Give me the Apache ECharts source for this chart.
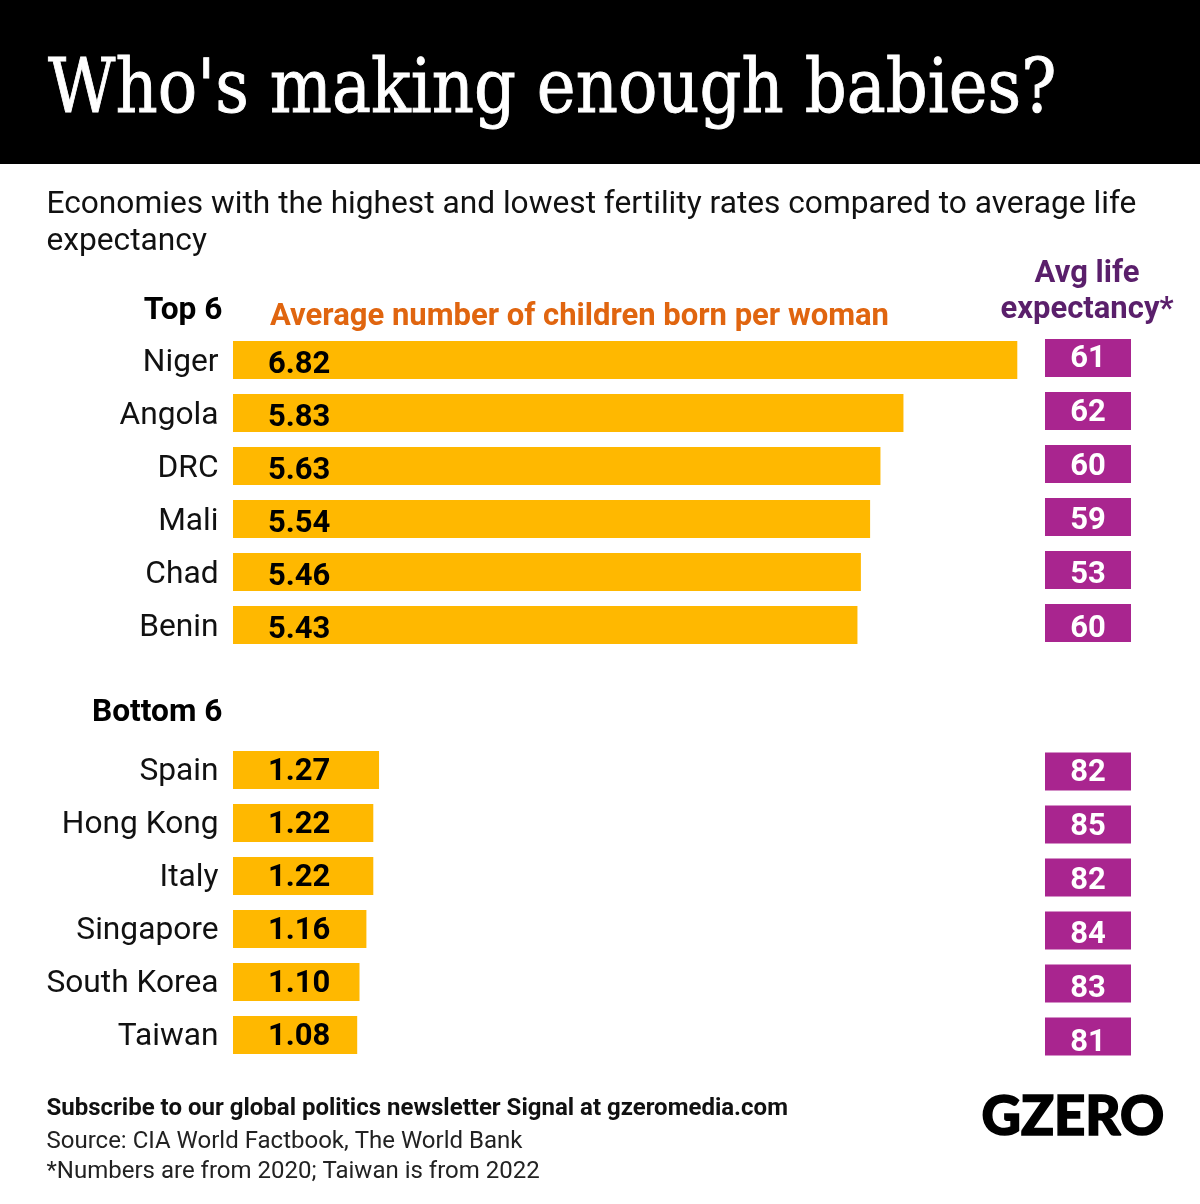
<!DOCTYPE html>
<html>
<head>
    <meta charset="UTF-8"/>
    <title>Who's making enough babies?</title>
    <style>
        html, body{
            margin: 0;
            background: #fff;
        }
    </style>
    <script src="https://cdn.jsdelivr.net/npm/echarts@6/dist/echarts.min.js"></script>
</head>
<body>
<div id="container" style="width: 1200px;height: 1204px;"></div>

<script>
  var topNames = ['Niger', 'Angola', 'DRC', 'Mali', 'Chad', 'Benin'];
  var topRates = [6.82, 5.83, 5.63, 5.54, 5.46, 5.43];
  var topLife = [61, 62, 60, 59, 53, 60];
  var bottomNames = ['Spain', 'Hong Kong', 'Italy', 'Singapore', 'South Korea', 'Taiwan'];
  var bottomRates = [1.27, 1.22, 1.22, 1.16, 1.10, 1.08];
  var bottomLife = [82, 85, 82, 84, 83, 81];

  var FONT = 'Roboto';
  var myChart = echarts.init(document.getElementById('container'));

  function text(str, x, y, size, weight, color, align, family, extra) {
      var el = {
          type: 'text',
          x: x,
          y: y,
          style: {
              text: str,
              fontFamily: family || FONT,
              fontSize: size,
              fontWeight: weight,
              fill: color,
              align: align || 'left',
              verticalAlign: 'middle'
          }
      };
      if (extra) {
          if (extra.scaleY) el.scaleY = extra.scaleY;
          if (extra.stroke) {
              el.style.stroke = color;
              el.style.lineWidth = extra.stroke;
          }
      }
      return el;
  }

  // bar grid: one row per country
  function barGrid(top) {
      return {left: 233, width: 920, top: top, height: 318};
  }
  function lifeGrid(top) {
      return {left: 1045, width: 86, top: top, height: 318};
  }
  function barSeries(idx, values, labelShift) {
      return {
          type: 'bar',
          xAxisIndex: idx,
          yAxisIndex: idx,
          data: values,
          barWidth: 38,
          silent: true,
          itemStyle: {color: '#FFB800'},
          label: {
              show: true,
              position: 'insideLeft',
              distance: 35,
              offset: [0, labelShift],
              formatter: function (p) { return p.value.toFixed(2); },
              fontFamily: FONT,
              fontSize: 31,
              fontWeight: 'bold',
              color: '#000'
          }
      };
  }
  function lifeSeries(idx, values, labelShift) {
      return {
          type: 'scatter',
          xAxisIndex: idx,
          yAxisIndex: idx,
          symbol: 'rect',
          symbolSize: [86, 38],
          silent: true,
          itemStyle: {color: '#A9258F', opacity: 1},
          data: values.map(function (v, i) {
              // numbers sit a little lower in the box on each row down
              return {value: [0, i], life: v, label: {offset: [0, labelShift + i]}};
          }),
          label: {
              show: true,
              position: 'inside',
              formatter: function (p) { return p.data.life; },
              fontFamily: FONT,
              fontSize: 31,
              fontWeight: 'bold',
              color: '#fff'
          }
      };
  }
  function hiddenX(gridIndex, isLife) {
      return isLife
          ? {gridIndex: gridIndex, type: 'category', data: ['life'], show: false}
          : {gridIndex: gridIndex, type: 'value', min: 0, max: 8, show: false};
  }
  function catY(gridIndex, names, showLabels) {
      return {
          gridIndex: gridIndex,
          type: 'category',
          inverse: true,
          data: names,
          axisLine: {show: false},
          axisTick: {show: false},
          splitLine: {show: false},
          axisLabel: {
              show: showLabels,
              margin: 14.5,
              fontFamily: FONT,
              fontSize: 31.7,
              color: '#111'
          }
      };
  }

  var option = {
      backgroundColor: '#fff',
      animation: false,
      // last two grids only carry the country names, which sit a bit below the bar centres
      grid: [barGrid(333.5), barGrid(743.5), lifeGrid(331.5), lifeGrid(745), barGrid(336.5), barGrid(746)],
      xAxis: [hiddenX(0), hiddenX(1), hiddenX(2, true), hiddenX(3, true), hiddenX(4), hiddenX(5)],
      yAxis: [
          catY(0, topNames, false),
          catY(1, bottomNames, false),
          catY(2, topNames, false),
          catY(3, bottomNames, false),
          catY(4, topNames, true),
          catY(5, bottomNames, true)
      ],
      series: [
          barSeries(0, topRates, 5),
          barSeries(1, bottomRates, 2),
          lifeSeries(2, topLife, 1),
          lifeSeries(3, bottomLife, 2)
      ],
      graphic: [
          {type: 'rect', z: -1, shape: {x: 0, y: 0, width: 1200, height: 164}, style: {fill: '#000'}},
          text("Who's making enough babies?", 48, 92, 65.6, 'normal', '#fff', 'left', 'DejaVu Serif', {scaleY: 1.15, stroke: 0.8}),
          text('Economies with the highest and lowest fertility rates compared to average life', 46.5, 205, 31.7, 'normal', '#111'),
          text('expectancy', 46.5, 242, 31.7, 'normal', '#111'),
          text('Top 6', 222.5, 311, 31.7, 'bold', '#000', 'right'),
          text('Bottom 6', 222.5, 713, 31.7, 'bold', '#000', 'right'),
          text('Average number of children born per woman', 270, 317, 31, 'bold', '#E0650F'),
          text('Avg life', 1087, 274, 31, 'bold', '#5A1F6B', 'center'),
          text('expectancy*', 1087, 310, 31, 'bold', '#5A1F6B', 'center'),
          text('Subscribe to our global politics newsletter Signal at gzeromedia.com', 46.5, 1108.5, 24, 'bold', '#111'),
          text('Source: CIA World Factbook, The World Bank', 46.5, 1141.5, 24, 'normal', '#222'),
          text('*Numbers are from 2020; Taiwan is from 2022', 46.5, 1171.5, 24, 'normal', '#222'),
          text('GZERO', 981.5, 1117, 54.5, 900, '#000', 'left', 'Lato', {stroke: 1.5})
      ]
  };
  myChart.setOption(option);
</script>

</body>
</html>
